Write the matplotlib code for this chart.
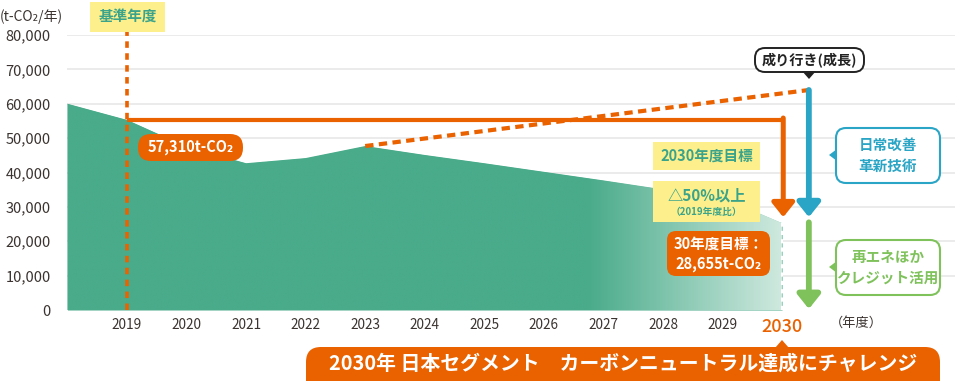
import matplotlib
matplotlib.use("Agg")
import matplotlib.pyplot as plt
import numpy as np
from matplotlib.patches import FancyBboxPatch, Polygon
from matplotlib.colors import to_rgb

plt.rcParams['font.family'] = ['Noto Sans CJK JP', 'DejaVu Sans']

# ---------------- data ----------------
years = [2018, 2019, 2020, 2021, 2022, 2023, 2024, 2025, 2026, 2027, 2028, 2029, 2030]
emissions = [60000, 55300, 47500, 42700, 44200, 47700, 45100, 42700, 40200, 37700, 35100, 32700, 25300]
base_year = 2019
base_value = 55300          # drawn level of the 2019 baseline line
bau_start = (2023, 47700)   # 成り行き dashed line start
bau_end = (2030.45, 64000)  # 成り行き dashed line end
target_2030 = 27000
credit_top = 25500
tick_years = list(range(2019, 2031))
yticks = [0, 10000, 20000, 30000, 40000, 50000, 60000, 70000, 80000]

GREEN = '#49ab8a'
GREEN_LIGHT = '#cfe9df'
ORANGE = '#ea6100'
BLUE = '#2aa5c5'
LGREEN = '#7fc25c'
YELLOW = '#fdf08c'
TEAL_TXT = '#3ba38a'
GRID = '#ebebeb'
DARK = '#3a3330'

W, H = 964, 381
fig = plt.figure(figsize=(W / 100, H / 100), dpi=100)

# axes placement: x=2018 at px 67.45, 59.55 px per year; y=0 at px 310, 80000 at px 35
px_per_year = 59.55
x0px = 67.45
xmax = 2018 + (W - x0px) / px_per_year
ax = fig.add_axes([x0px / W, (H - 310) / H, (W - x0px) / W, (310 - 35) / H])
ax.set_xlim(2018, xmax)
ax.set_ylim(0, 80000)
for s in ax.spines.values():
    s.set_visible(False)

# gridlines
for yv in yticks[1:]:
    ax.plot([2018, 2018 + (955 - x0px) / px_per_year], [yv, yv], color=GRID, lw=1.4, zorder=0,
            solid_capstyle='butt')

# area with gradient
poly = ax.fill_between(years, 0, emissions, color=GREEN, lw=0, zorder=1)
xs = np.linspace(2018, 2030, 600)
g0, g1 = 2026.75, 2030.0
t = np.clip((xs - g0) / (g1 - g0), 0, 1)
c0, c1 = np.array(to_rgb(GREEN)), np.array(to_rgb(GREEN_LIGHT))
cols = c0[None, :] * (1 - t[:, None]) + c1[None, :] * t[:, None]
img = np.tile(cols[None, :, :], (2, 1, 1))
im = ax.imshow(img, extent=[2018, 2030, 0, 80000], aspect='auto', zorder=2, interpolation='bilinear')
im.set_clip_path(poly.get_paths()[0], transform=ax.transData)
ax.set_xlim(2018, xmax)
ax.set_ylim(0, 80000)
# white dashed right edge
ax.plot([2030, 2030], [0, emissions[-1]], color='white', lw=1.5, ls=(0, (2, 2)), zorder=3)

# baseline vertical dotted line
ax.plot([base_year, base_year], [0, 81500], color=ORANGE, lw=2.6, ls=(0, (1.8, 1.5)), zorder=4, clip_on=False)

# baseline horizontal orange line to target arrow
ax.plot([base_year, 2030.02], [base_value, base_value], color=ORANGE, lw=3, zorder=4,
        solid_capstyle='butt', solid_joinstyle='miter')
ax.annotate('', xy=(2030.02, target_2030), xytext=(2030.02, base_value + 550),
            arrowprops=dict(arrowstyle='-|>,head_length=0.85,head_width=0.68', color=ORANGE, lw=3.6,
                            shrinkA=0, shrinkB=0), zorder=5)

# BAU dashed
ax.plot([bau_start[0], bau_end[0]], [bau_start[1], bau_end[1]], color=ORANGE, lw=3,
        ls=(0, (2.0, 1.3)), zorder=4)

# blue arrow
ax.annotate('', xy=(bau_end[0], target_2030), xytext=(bau_end[0], bau_end[1]),
            arrowprops=dict(arrowstyle='-|>,head_length=0.85,head_width=0.68', color=BLUE, lw=4.2,
                            shrinkA=0, shrinkB=0), zorder=5)
# green arrow
ax.annotate('', xy=(bau_end[0], 300), xytext=(bau_end[0], credit_top),
            arrowprops=dict(arrowstyle='-|>,head_length=0.85,head_width=0.68', color=LGREEN, lw=4.2,
                            shrinkA=0, shrinkB=0), zorder=5)

# ticks
ax.set_yticks(yticks)
ax.set_yticklabels([f'{v:,}' for v in yticks], fontsize=10.5, color=DARK)
ax.set_xticks(tick_years)
ax.set_xticklabels([str(y) for y in tick_years], fontsize=9.8, color=DARK)
ax.tick_params(length=0, pad=6)
ax.tick_params(axis='y', pad=12)
lbl = ax.get_xticklabels()[-1]
lbl.set_color(ORANGE)
lbl.set_fontsize(13)
lbl.set_fontweight('medium')

# ---------------- annotations (pixel helpers) ----------------
def fx(px):
    return px / W

def fy(py):
    return 1 - py / H

def box(x0, y0, x1, y1, fc, ec='none', lw=0, r=6):
    p = FancyBboxPatch((fx(x0), fy(y1)), fx(x1) - fx(x0), fy(y0) - fy(y1),
                       boxstyle=f'round,pad=0,rounding_size={r / W}', transform=fig.transFigure,
                       fc=fc, ec=ec, lw=lw, zorder=10, mutation_aspect=W / H)
    fig.add_artist(p)

def rect(x0, y0, x1, y1, fc):
    fig.add_artist(FancyBboxPatch((fx(x0), fy(y1)), fx(x1) - fx(x0), fy(y0) - fy(y1),
                                  boxstyle='square,pad=0', transform=fig.transFigure,
                                  fc=fc, ec='none', zorder=10))

def tri(pts, color):
    fig.add_artist(Polygon([(fx(a), fy(b)) for a, b in pts], closed=True, transform=fig.transFigure,
                           fc=color, ec='none', zorder=11))

def txt(px, py, s, **kw):
    kw.setdefault('ha', 'center')
    kw.setdefault('va', 'center')
    fig.text(fx(px), fy(py), s, zorder=12, **kw)

# y-axis unit
txt(0, 17, '(t-CO₂/年)', ha='left', fontsize=10, color=DARK)

# 基準年度
rect(90, 2, 165, 32, YELLOW)
txt(127.5, 16, '基準年度', fontsize=10.5, color=TEAL_TXT, fontweight='bold')

# 成り行き（成長）
box(755, 48, 864, 72, 'white', ec='#222222', lw=1.4, r=10)
tri([(802, 71), (816, 71), (809, 79)], '#222222')
txt(809.5, 59.5, '成り行き(成長)', fontsize=10.2, color='#222222', fontweight='bold')

# 57,310t-CO2 pill
box(138, 134, 243, 161, ORANGE, r=13)
txt(190.5, 147, '57,310t-CO₂', fontsize=10.5, color='white', fontweight='bold')

# 2030年度目標
rect(653, 142, 760, 170, YELLOW)
txt(706.5, 156, '2030年度目標', fontsize=10.5, color=TEAL_TXT, fontweight='bold')

# △50%以上
rect(653, 181, 760, 222, YELLOW)
txt(706.5, 196, '△50%以上', fontsize=11, color=TEAL_TXT, fontweight='bold')
txt(706.5, 212, '（2019年度比）', fontsize=7, color=TEAL_TXT, fontweight='bold')

# 30年度目標
box(667, 231, 770, 276, ORANGE, r=9)
txt(718.5, 243.5, '30年度目標：', fontsize=10.5, color='white', fontweight='bold')
txt(718.5, 264, '28,655t-CO₂', fontsize=10.5, color='white', fontweight='bold')

# 日常改善 / 革新技術
box(836, 128, 940, 183, 'white', ec=BLUE, lw=1.5, r=10)
tri([(837, 149), (837, 161), (829, 155)], BLUE)
txt(888, 145, '日常改善', fontsize=10.5, color=BLUE, fontweight='bold')
txt(888, 166, '革新技術', fontsize=10.5, color=BLUE, fontweight='bold')

# 再エネほか / クレジット活用
box(836, 240, 940, 295, 'white', ec=LGREEN, lw=1.5, r=10)
tri([(837, 261), (837, 273), (829, 267)], LGREEN)
txt(888, 257, '再エネほか', fontsize=10.5, color=LGREEN, fontweight='bold')
txt(888, 278, 'クレジット活用', fontsize=10.5, color=LGREEN, fontweight='bold')

# （年度）
txt(856, 323, '（年度）', fontsize=9.5, color=DARK)

# bottom banner
box(306, 347, 940, 405, ORANGE, r=15)
tri([(775, 348), (789, 348), (782, 340)], ORANGE)
txt(623, 363.5, '2030年 日本セグメント　カーボンニュートラル達成にチャレンジ', fontsize=14.3,
    color='white', fontweight='bold')

fig.savefig('out.png', dpi=100)
